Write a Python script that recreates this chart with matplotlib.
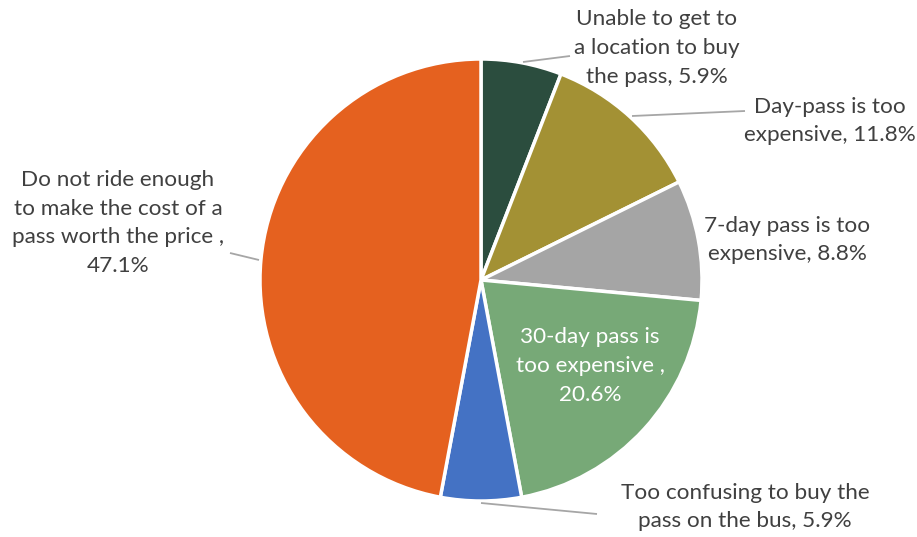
import matplotlib
matplotlib.use("Agg")
import matplotlib.pyplot as plt

# Reasons for not buying a bus pass (share of responses, %)
categories = [
    "Unable to get to\na location to buy\nthe pass",
    "Day-pass is too\nexpensive",
    "7-day pass is too\nexpensive",
    "30-day pass is\ntoo expensive ",
    "Too confusing to buy the\npass on the bus",
    "Do not ride enough\nto make the cost of a\npass worth the price ",
]
values = [5.9, 11.8, 8.8, 20.6, 5.9, 47.1]
colors = ["#2B4D3E", "#A39134", "#A5A5A5", "#77A977", "#4472C4", "#E5611F"]

W, H = 917, 537
fig = plt.figure(figsize=(W / 100, H / 100), dpi=100)
ax = fig.add_axes([0, 0, 1, 1])
ax.set_xlim(0, W)
ax.set_ylim(0, H)

cx, cy, r = 481, H - 280, 221
ax.pie(values, colors=colors, startangle=90, counterclock=False,
       center=(cx, cy), radius=r, frame=True,
       wedgeprops=dict(edgecolor="white", linewidth=2.5))
ax.set_xlim(0, W)
ax.set_ylim(0, H)
ax.set_aspect("equal")
ax.axis("off")


def label(i, x, y, color="#404040", ha="center"):
    txt = f"{categories[i]}, {values[i]:.1f}%"
    if i in (3, 5):
        txt = f"{categories[i]},\n{values[i]:.1f}%"
    ax.text(x, H - y, txt, ha=ha, va="center", fontsize=16.2, color=color,
            family="Lato", linespacing=1.55)


def leader(x0, y0, x1, y1):
    ax.plot([x0, x1], [H - y0, H - y1], color="#A6A6A6", lw=1.3,
            solid_capstyle="butt")


label(0, 657, 48)
leader(523, 62, 570, 56)
label(1, 830, 121)
leader(632, 116, 745, 111)
label(2, 787, 240)
label(3, 590, 366, color="white")
label(4, 745, 507)
leader(481, 503, 597, 514)
label(5, 118, 223)
leader(230, 253, 259, 260)

fig.savefig("out.png", dpi=100)
